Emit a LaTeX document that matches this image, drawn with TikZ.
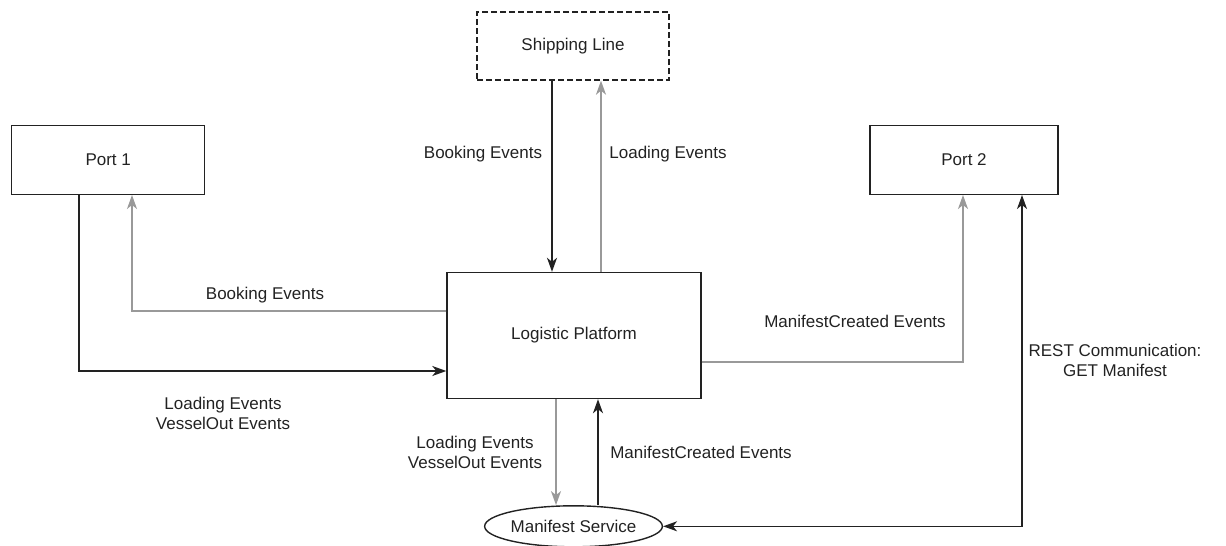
\documentclass[tikz,border=0pt]{standalone}
\usepackage{fontspec}
\setmainfont{Liberation Sans}
\usetikzlibrary{arrows.meta,shapes.geometric}
\definecolor{ink}{HTML}{222222}
\definecolor{lgray}{HTML}{999999}
\tikzset{
  box/.style={draw=ink,line width=1.4pt,rectangle,inner sep=0pt,text=ink,font=\fontsize{17}{20}\selectfont},
  lbl/.style={text=ink,align=center,inner sep=0pt,font=\fontsize{17}{20}\selectfont},
  blk/.style={draw=ink,line width=1.4pt,-{Stealth[length=14pt,width=10pt,inset=4pt]}},
  gry/.style={draw=lgray,line width=1.4pt,-{Stealth[length=14pt,width=10pt,inset=4pt]}},
}
\begin{document}
\begin{tikzpicture}[x=1pt,y=-1pt]
\useasboundingbox (0,0) rectangle (1226,546);
\node[box,dashed,dash pattern=on 6pt off 3pt,minimum width=192pt,minimum height=68pt] (ship) at (573,46) {Shipping Line};
\node[box,minimum width=254pt,minimum height=126pt] (lp) at (574,335.5) {Logistic Platform};
\node[box,minimum width=193pt,minimum height=68.6pt] (port1) at (108.2,160) {Port 1};
\node[box,minimum width=188pt,minimum height=68.6pt] (port2) at (964,160) {Port 2};
\node[box,ellipse,minimum width=148pt,minimum height=41pt] (ms) at (573.5,526.3) {Manifest Service};

\draw[blk] (552,0 |- ship.south) -- (552,0 |- lp.north);
\draw[gry] (601,0 |- lp.north) -- (601,0 |- ship.south);
\draw[gry] (lp.west |- 0,311) -| (132,0 |- port1.south);
\draw[blk] (79,0 |- port1.south) |- (lp.west |- 0,371);
\draw[gry] (lp.east |- 0,362) -| (963,0 |- port2.south);
\draw[gry] (556,0 |- lp.south) -- (556,0 |- ms.north);
\draw[blk] (598,0 |- ms.north) -- (598,0 |- lp.south);
\draw[blk,{Stealth[length=14pt,width=10pt,inset=4pt]}-{Stealth[length=14pt,width=10pt,inset=4pt]}] (ms.east) -| (1022,0 |- port2.south);

\node[lbl] (l1) at (483,154) {Booking Events};
\node[lbl] (l2) at (668,154) {Loading Events};
\node[lbl] (l3) at (265,295) {Booking Events};
\node[lbl] (l4) at (223,413) {Loading Events\\VesselOut Events};
\node[lbl] (l5) at (855,321) {ManifestCreated Events};
\node[lbl] (l6) at (1115,360) {REST Communication:\\GET Manifest};
\node[lbl] (l7) at (475,452) {Loading Events\\VesselOut Events};
\node[lbl] (l8) at (701,452) {ManifestCreated Events};
\end{tikzpicture}
\end{document}
